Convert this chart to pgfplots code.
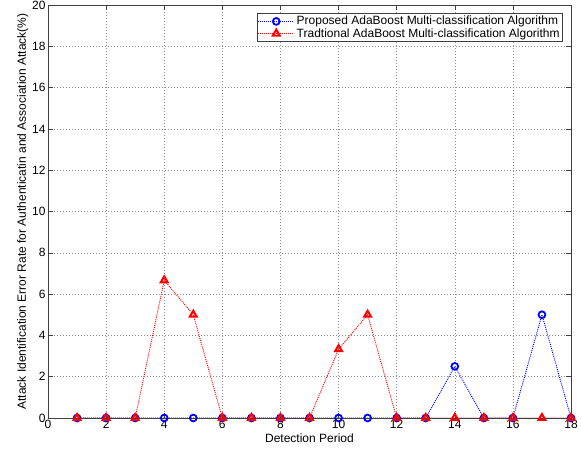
\documentclass[border=0pt]{standalone}
\usepackage{fontspec}
\setmainfont{Liberation Sans}
\usepackage{pgfplots}
\pgfplotsset{compat=1.18}

% Error rates per detection period (%)
\pgfplotstableread{
x  y
1  0
2  0
3  0
4  0
5  0
6  0
7  0
8  0
9  0
10 0
11 0
12 0
13 0
14 2.5
15 0
16 0
17 5
18 0
}\proposed
\pgfplotstableread{
x  y
1  0
2  0
3  0
4  6.667
5  5
6  0
7  0
8  0
9  0
10 3.333
11 5
12 0
13 0
14 0
15 0
16 0
17 0
18 0
}\traditional

\begin{document}
\begin{tikzpicture}
\begin{axis}[
  name=ax,
  scale only axis,
  width=523pt, height=413pt,
  xmin=0, xmax=18, ymin=0, ymax=20,
  xtick={0,2,...,18}, ytick={0,2,...,20},
  tick align=inside,
  major tick length=5pt,
  xtick pos=both, ytick pos=both,
  axis line style={draw=black!75, line width=0.6pt},
  tick style={draw=black!75, line width=0.5pt},
  grid=major,
  major grid style={draw=black!45, line width=0.5pt, dash pattern=on 1pt off 2pt},
  font=\fontsize{12}{14}\selectfont,
  /pgf/number format/assume math mode=true,
  xticklabel style={yshift=1pt},
  yticklabel style={xshift=1pt},
  xlabel={Detection Period},
  ylabel={Attack Identification Error Rate for Authenticatin and Association Attack(\%)},
  xlabel style={yshift=2pt},
  ylabel style={yshift=-3pt},
  legend cell align=left,
  legend style={at={(rel axis cs:0.9847,0.9806)}, anchor=north east,
    draw=black!75, line width=0.6pt, inner sep=1pt, row sep=-2pt,
    font=\fontsize{12}{14}\selectfont},
  legend image code/.code={
    \draw[#1, mark repeat=2, mark phase=2]
      plot coordinates {(0pt,0pt) (18pt,0pt) (36pt,0pt)};
  },
]
\addplot[blue, line width=0.9pt, dash pattern=on 1pt off 1pt,
  mark=o, mark size=3.4pt,
  mark options={solid, line width=1.8pt}]
  table[x=x, y=y] {\proposed};
\addlegendentry{Proposed AdaBoost Multi-classification Algorithm}
\addplot[red, line width=0.9pt, dash pattern=on 1pt off 1pt,
  mark=triangle, mark size=4pt,
  mark options={solid, line width=2pt}]
  table[x=x, y=y] {\traditional};
\addlegendentry{Tradtional AdaBoost Multi-classification Algorithm}
\end{axis}
\pgfresetboundingbox
\path ([xshift=-48pt,yshift=-33pt]ax.south west) rectangle ([xshift=11pt,yshift=5pt]ax.north east);
\end{tikzpicture}
\end{document}
